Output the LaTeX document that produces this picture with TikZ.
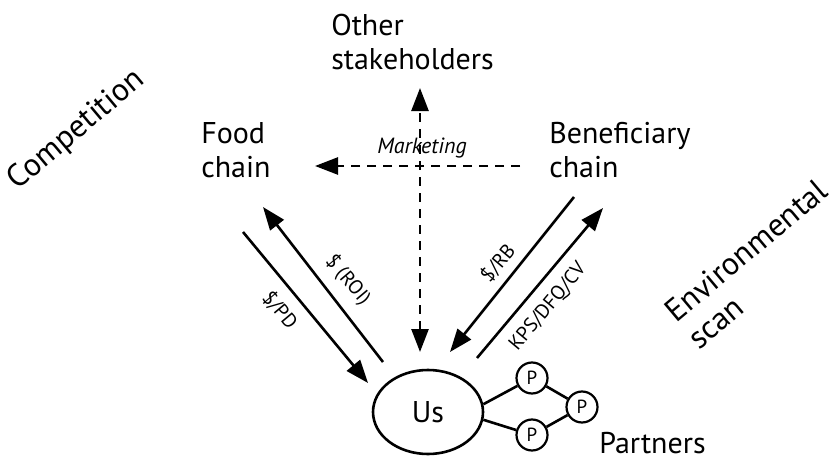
\documentclass[tikz,border=0pt]{standalone}
\usepackage{fontspec}
\setmainfont{PT Sans}
\usetikzlibrary{arrows.meta}
\usetikzlibrary{shapes.geometric}

\begin{document}
\begin{tikzpicture}
		[x=1pt,y=-1pt,line width=2.6pt,
		big/.style={font=\fontsize{30}{34}\selectfont,align=left,anchor=base west,inner sep=0pt},
		side/.style={big,font=\fontsize{32}{35}\selectfont},
		lbl/.style={font=\fontsize{20}{22}\selectfont,inner sep=0pt},
		flow/.style={-{Triangle[length=23pt,width=17pt]}},
		mkt/.style={dash pattern=on 9pt off 7pt},
		partner/.style={circle,draw,line width=2.2pt,minimum size=31pt,inner sep=0pt,font=\fontsize{19}{22}\selectfont}]
		\useasboundingbox (0,0) rectangle (838,460);
		
		\node[big] (other) at (330,70) {Other\\stakeholders};
		\node[big] (food) at (200,177) {Food\\chain};
		\node[big] (bene) at (548,177) {Beneficiary\\chain};
		\node[side,rotate=40] (comp) at (17,191) {Competition};
		\node[side,rotate=40] (env) at (698,351) {Environmental\\scan};
		\node[big] (partners) at (598,453) {Partners};
		
		\node[draw,ellipse,minimum width=110pt,minimum height=84pt,font=\fontsize{30}{34}\selectfont] (us) at (428,412) {Us};
		\node[partner] (p1) at (532,378) {P};
		\node[partner] (p2) at (582,407) {P};
		\node[partner] (p3) at (532,435) {P};
		
		\foreach \from/\to in 
		{us.8/p1, us.352/p3, p1/p2, p2/p3}
		\draw (\from) -- (\to);
		
		% money and goods flows
		\coordinate (a1) at (243,232);  \coordinate (a2) at (368,383);
		\coordinate (b1) at (383,362);  \coordinate (b2) at (263,207);
		\coordinate (c1) at (574,197);  \coordinate (c2) at (450,352);
		\coordinate (d1) at (477,358);  \coordinate (d2) at (603,208);
		\draw[flow] (a1) -- (a2);
		\draw[flow] (b1) -- (b2);
		\draw[flow] (c1) -- (c2);
		\draw[flow] (d1) -- (d2);
		\node[lbl,rotate=-50] (pd) at (280,310) {\$/PD};
		\node[lbl,rotate=-50] (roi) at (348,280) {\$ (ROI)};
		\node[lbl,rotate=50] (rb) at (498,263) {\$/RB};
		\node[lbl,rotate=50] (kps) at (548,307) {KPS/DFQ/CV};
		
		% marketing
		\coordinate (m1) at (420,352);  \coordinate (m2) at (420,88);
		\coordinate (m3) at (520,166);  \coordinate (m4) at (315,166);
		\draw[mkt,{Triangle[length=23pt,width=17pt]}-{Triangle[length=23pt,width=17pt]}] (m1) -- (m2);
		\draw[mkt,flow] (m3) -- (m4);
		\node[lbl,font=\fontsize{22}{24}\selectfont\itshape,anchor=base] (mark) at (422,153) {Marketing};
\end{tikzpicture}
\end{document}
